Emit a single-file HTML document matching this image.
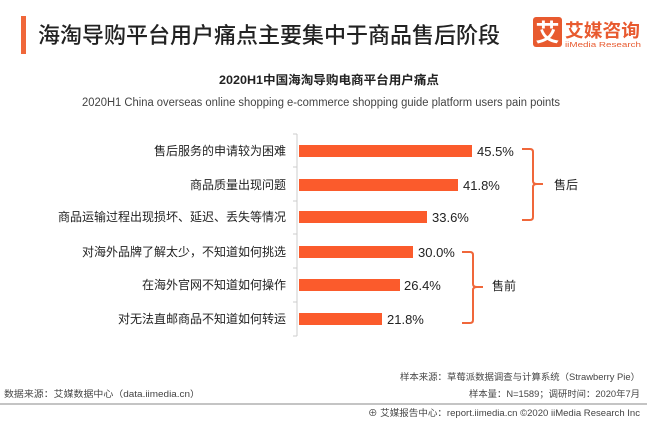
<!DOCTYPE html>
<html><head><meta charset="utf-8"><style>
body{margin:0;background:#fff;}
svg text{font-family:"Liberation Sans","Noto Sans CJK SC",sans-serif;}
</style></head><body>
<svg width="647" height="420" viewBox="0 0 647 420" xmlns="http://www.w3.org/2000/svg">
<rect width="647" height="420" fill="#fff"/>
<rect x="21" y="16" width="5" height="38" fill="#f0673a"/>
<text x="38" y="43" font-size="22" fill="#222" font-weight="500" textLength="462" lengthAdjust="spacingAndGlyphs">海淘导购平台用户痛点主要集中于商品售后阶段</text>
<rect x="533" y="17" width="29" height="30" rx="3" fill="#e85a2f"/>
<text x="547.5" y="41" font-size="24" fill="#fff" text-anchor="middle" font-weight="bold">艾</text>
<text x="565" y="37" font-size="18" fill="#e85a2f" font-weight="bold" textLength="75" lengthAdjust="spacingAndGlyphs">艾媒咨询</text>
<text x="565" y="47" font-size="7.5" fill="#e85a2f" textLength="76" lengthAdjust="spacingAndGlyphs">iiMedia Research</text>
<text x="219" y="84" font-size="12" fill="#222" font-weight="bold" textLength="220" lengthAdjust="spacingAndGlyphs">2020H1中国海淘导购电商平台用户痛点</text>
<text x="82" y="106" font-size="11.5" fill="#444" textLength="478" lengthAdjust="spacingAndGlyphs">2020H1 China overseas online shopping e-commerce shopping guide platform users pain points</text>
<line x1="297" y1="134" x2="297" y2="336" stroke="#ccc" stroke-width="1"/>
<g stroke="#ccc"><line x1="293" y1="134" x2="297" y2="134"/><line x1="293" y1="167" x2="297" y2="167"/><line x1="293" y1="201" x2="297" y2="201"/><line x1="293" y1="234" x2="297" y2="234"/><line x1="293" y1="268" x2="297" y2="268"/><line x1="293" y1="302" x2="297" y2="302"/><line x1="293" y1="336" x2="297" y2="336"/></g>
<g fill="#fb5b2c">
<rect x="299" y="145" width="173" height="12"/>
<rect x="299" y="179" width="159" height="12"/>
<rect x="299" y="211" width="128" height="12"/>
<rect x="299" y="246" width="114" height="12"/>
<rect x="299" y="279" width="101" height="12"/>
<rect x="299" y="313" width="83" height="12"/>
</g>
<g font-size="12" fill="#222" text-anchor="end">
<text x="286" y="155">售后服务的申请较为困难</text>
<text x="286" y="189">商品质量出现问题</text>
<text x="286" y="221">商品运输过程出现损坏、延迟、丢失等情况</text>
<text x="286" y="256">对海外品牌了解太少，不知道如何挑选</text>
<text x="286" y="289">在海外官网不知道如何操作</text>
<text x="286" y="323">对无法直邮商品不知道如何转运</text>
</g>
<g font-size="13" fill="#222">
<text x="477" y="156">45.5%</text>
<text x="463" y="190">41.8%</text>
<text x="432" y="222">33.6%</text>
<text x="418" y="257">30.0%</text>
<text x="404" y="290">26.4%</text>
<text x="387" y="324">21.8%</text>
</g>
<g fill="none" stroke="#f0673a" stroke-width="2">
<path d="M522 149 H530 Q533 149 533 152 V181 Q533 184 537 184 H543 M537 184 Q533 184 533 187 V217 Q533 220 530 220 H522"/>
<path d="M462 252 H470 Q473 252 473 255 V284 Q473 287 477 287 H483 M477 287 Q473 287 473 290 V320 Q473 323 470 323 H462"/>
</g>
<text x="554" y="189" font-size="12" fill="#222">售后</text>
<text x="492" y="290" font-size="12" fill="#222">售前</text>
<text x="400" y="380" font-size="9" fill="#444" textLength="240" lengthAdjust="spacingAndGlyphs">样本来源：草莓派数据调查与计算系统（Strawberry Pie）</text>
<text x="4" y="397" font-size="9" fill="#444" textLength="196" lengthAdjust="spacingAndGlyphs">数据来源：艾媒数据中心（data.iimedia.cn）</text>
<text x="469" y="397" font-size="9" fill="#444" textLength="171" lengthAdjust="spacingAndGlyphs">样本量：N=1589；调研时间：2020年7月</text>
<line x1="0" y1="404" x2="647" y2="404" stroke="#888" stroke-width="1"/>
<text x="368" y="416" font-size="9" fill="#444" textLength="272" lengthAdjust="spacingAndGlyphs">⊕ 艾媒报告中心：report.iimedia.cn  ©2020  iiMedia Research Inc</text>
</svg>
</body></html>
